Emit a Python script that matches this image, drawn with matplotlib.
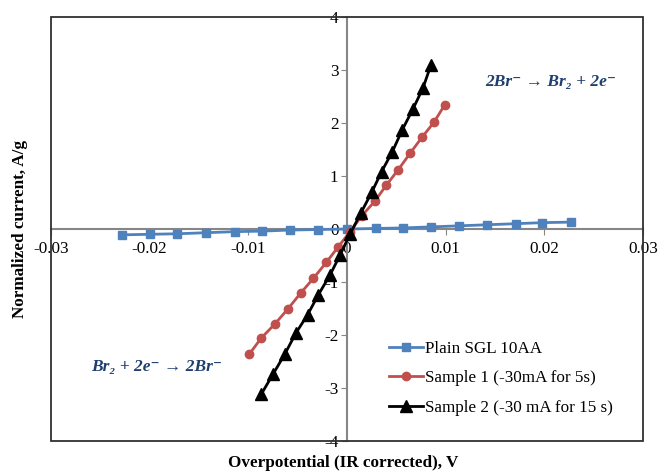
import matplotlib
matplotlib.use('Agg')
import matplotlib.pyplot as plt
from matplotlib.patches import Rectangle

plt.rcParams['font.family'] = ['Liberation Serif', 'DejaVu Serif']
plt.rcParams['axes.unicode_minus'] = False

# Plain SGL 10AA
blue_x = [-0.0228, -0.0200, -0.0172, -0.0143, -0.0114, -0.0086, -0.0058, -0.0029, 0.0,
          0.0029, 0.0057, 0.0085, 0.0114, 0.0142, 0.0171, 0.0198, 0.0227]
blue_y = [-0.11, -0.10, -0.09, -0.07, -0.05, -0.04, -0.02, -0.01, 0.0,
          0.01, 0.02, 0.04, 0.06, 0.08, 0.10, 0.12, 0.13]

# Sample 1 (-30mA for 5s)
red_x = [-0.0099, -0.0087, -0.0073, -0.0060, -0.0047, -0.0034, -0.0021, -0.0009, 0.0003,
         0.0015, 0.0028, 0.0040, 0.0052, 0.0064, 0.0076, 0.0088, 0.0099]
red_y = [-2.36, -2.06, -1.79, -1.51, -1.21, -0.93, -0.63, -0.34, -0.05,
         0.25, 0.52, 0.83, 1.12, 1.43, 1.73, 2.01, 2.34]

# Sample 2 (-30 mA for 15 s)
black_x = [-0.0087, -0.0075, -0.0063, -0.0052, -0.0040, -0.0029, -0.0017, -0.0007, 0.0003,
           0.0014, 0.0025, 0.0035, 0.0046, 0.0056, 0.0067, 0.0077, 0.0085]
black_y = [-3.12, -2.74, -2.36, -1.97, -1.62, -1.24, -0.86, -0.49, -0.10,
           0.30, 0.69, 1.08, 1.46, 1.87, 2.27, 2.66, 3.09]

labels = ['Plain SGL 10AA', 'Sample 1 (-30mA for 5s)', 'Sample 2 (-30 mA for 15 s)']
x_ticks = [-0.03, -0.02, -0.01, 0, 0.01, 0.02, 0.03]
x_tick_labels = ['-0.03', '-0.02', '-0.01', '0', '0.01', '0.02', '0.03']
y_ticks = [-4, -3, -2, -1, 0, 1, 2, 3, 4]

fig = plt.figure(figsize=(6.6, 4.72), dpi=100)
ax = fig.add_axes([51/660, 1-441/472, 592/660, 424/472])

ax.plot(blue_x, blue_y, color='#4F81BD', lw=2, marker='s', ms=6, label=labels[0], zorder=3)
ax.plot(red_x, red_y, color='#C0504D', lw=2, marker='o', ms=6, label=labels[1], zorder=4)
ax.plot(black_x, black_y, color='black', lw=2, marker='^', ms=8, label=labels[2], zorder=5)

ax.set_xlim(-0.03, 0.03)
ax.set_ylim(-4, 4)
ax.set_xticks(x_ticks)
ax.set_xticklabels(x_tick_labels)
ax.set_yticks(y_ticks)

# axes crossing at zero, Excel style
for s in ['left', 'bottom']:
    ax.spines[s].set_position(('data', 0))
    ax.spines[s].set_color('#868686')
    ax.spines[s].set_linewidth(1.5)
for s in ['top', 'right']:
    ax.spines[s].set_visible(False)
ax.add_patch(Rectangle((0, 0), 1, 1, transform=ax.transAxes, fill=False,
                       ec='#303030', lw=1.3, clip_on=False, zorder=6))

ax.tick_params(axis='both', direction='out', length=4, color='#868686',
               labelsize=12.3)
ax.tick_params(axis='x', pad=5)
ax.tick_params(axis='y', pad=2)

fig.text(20/660, 1-229/472, 'Normalized current, A/g', rotation=90, ha='center',
         va='center', fontsize=12.3, fontweight='bold')
fig.text(343/660, 1-463/472, 'Overpotential (IR corrected), V', ha='center',
         va='center', fontsize=12.3, fontweight='bold')

ann_font = dict(family=['Liberation Serif', 'DejaVu Serif'], style='italic',
                weight='bold', color='#1F3F6E', fontsize=12.5)
fig.text(485/660, 1-82/472, '2Br\u207b \u2192 Br\u2082 + 2e\u207b', ha='left', va='center',
         **ann_font)
fig.text(91/660, 1-367/472, 'Br\u2082 + 2e\u207b \u2192 2Br\u207b', ha='left', va='center',
         **ann_font)

ax.legend(loc='upper left', bbox_to_anchor=(389/660, 1-341/472),
          bbox_transform=fig.transFigure, frameon=False, fontsize=12.3,
          handlelength=2.0, handletextpad=0.1, labelspacing=0.78,
          borderpad=0, borderaxespad=0)

fig.savefig('out.png', dpi=100)
